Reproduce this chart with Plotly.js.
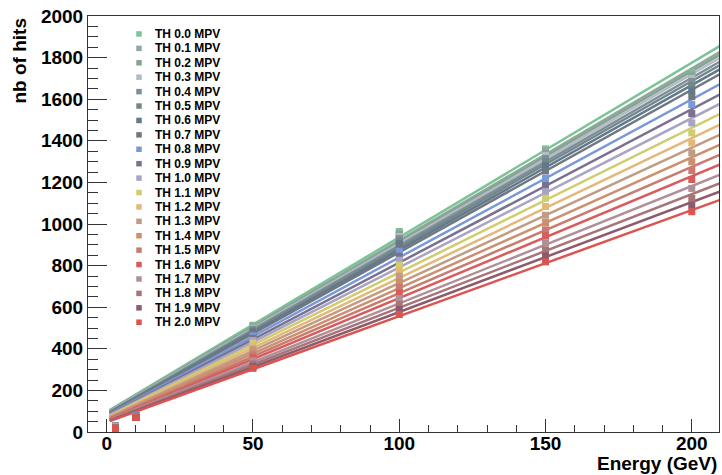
<!DOCTYPE html>
<html>
<head>
<meta charset="utf-8">
<script src="https://cdn.plot.ly/plotly-3.0.1.min.js"></script>
<style>html,body{margin:0;padding:0;background:#fff;}#chart{width:722px;height:475px;}</style>
</head>
<body>
<div id="chart"></div>
<script>
// ---- data ----
const thresholds = ['TH 0.0 MPV','TH 0.1 MPV','TH 0.2 MPV','TH 0.3 MPV','TH 0.4 MPV','TH 0.5 MPV','TH 0.6 MPV','TH 0.7 MPV','TH 0.8 MPV','TH 0.9 MPV','TH 1.0 MPV','TH 1.1 MPV','TH 1.2 MPV','TH 1.3 MPV','TH 1.4 MPV','TH 1.5 MPV','TH 1.6 MPV','TH 1.7 MPV','TH 1.8 MPV','TH 1.9 MPV','TH 2.0 MPV'];
const energies = [3, 10, 50, 100, 150, 200];
const hitsE3   = [30,29,29,28,28,27,27,26,25,25,24,23,23,22,21,21,20,19,19,18,17];
const hitsE10  = [80,79,79,78,78,77,77,76,76,75,75,74,74,73,73,72,72,71,71,70,70];
const hitsE50  = [513,508,504,500,494,488,481,472,462,450,440,427,413,399,385,371,357,342,327,315,306];
const hitsE100 = [964,955,948,940,930,918,905,888,869,845,826,802,776,749,722,696,669,642,613,589,565];
const hitsE150 = [1361,1350,1340,1330,1315,1300,1280,1255,1220,1187,1156,1124,1084,1042,1007,972,943,910,876,847,818];
const hitsE200 = [1728,1720,1710,1700,1685,1665,1640,1612,1574,1531,1486,1438,1390,1342,1299,1257,1214,1171,1123,1090,1059];
// linear fit parameters per threshold (hits = intercept + slope * E)
const fitIntercept = [96.6,94.7,92.8,90.9,88.9,87.0,84.1,82.2,79.4,76.6,73.8,71.0,68.3,65.5,62.7,59.9,57.1,54.4,51.5,48.7,46.9];
const fitSlope     = [8.395,8.265,8.212,8.149,8.072,8.000,7.918,7.817,7.600,7.378,7.176,6.959,6.723,6.506,6.289,6.072,5.865,5.639,5.460,5.282,5.099];
const fitRange = [1, 215];
const xTicks = [0, 50, 100, 150, 200];

// ---- styles ----
const colors = ['rgb(122,196,150)','rgb(143,168,160)','rgb(136,164,142)','rgb(176,188,200)','rgb(127,143,152)','rgb(116,136,138)','rgb(98,120,140)','rgb(110,120,128)','rgb(120,152,216)','rgb(122,112,144)','rgb(168,164,196)','rgb(208,204,112)','rgb(228,184,120)','rgb(192,156,132)','rgb(204,144,112)','rgb(200,124,112)','rgb(216,92,92)','rgb(176,144,152)','rgb(168,116,120)','rgb(140,92,108)','rgb(220,84,80)'];
const FONT = 'Liberation Sans, Arial, Helvetica, sans-serif';
const axisCol = '#333';

const hitsByEnergy = [hitsE3, hitsE10, hitsE50, hitsE100, hitsE150, hitsE200];
const traces = [];
thresholds.forEach((name, i) => {
  traces.push({
    type: 'scatter', mode: 'lines', name: name, showlegend: false, hoverinfo: 'skip',
    x: fitRange.slice(),
    y: fitRange.map(e => fitIntercept[i] + fitSlope[i] * e),
    line: {color: colors[i], width: 2.5}
  });
});
thresholds.forEach((name, i) => {
  traces.push({
    type: 'scatter', mode: 'markers', name: name, showlegend: false,
    x: energies.slice(),
    y: hitsByEnergy.map(arr => arr[i]),
    marker: {symbol: 'square', size: 7, color: colors[i], line: {width: 0}},
    cliponaxis: true
  });
});

// plot area in pixels
const W = 722, H = 475;
const M = {l: 88, r: 3, t: 16, b: 42.5};
const pw = W - M.l - M.r, ph = H - M.t - M.b;
const px2x = p => (p - M.l) / pw;
const py2y = p => (H - M.b - p) / ph;

const shapes = [];
const annotations = [];
const legTop = 34, legStep = 14.43, sw = 5.5;
thresholds.forEach((name, i) => {
  const cy = legTop + legStep * i;
  shapes.push({type: 'rect', xref: 'paper', yref: 'paper',
    x0: px2x(139 - sw/2), x1: px2x(139 + sw/2), y0: py2y(cy + sw/2), y1: py2y(cy - sw/2),
    fillcolor: colors[i], line: {width: 0}});
  annotations.push({xref: 'paper', yref: 'paper', x: px2x(153), y: py2y(cy),
    xanchor: 'left', yanchor: 'middle', showarrow: false, text: name,
    font: {family: FONT, size: 12, color: '#000', weight: 'bold'}});
});
annotations.push({xref: 'paper', yref: 'paper', x: px2x(719), y: py2y(464),
  xanchor: 'right', yanchor: 'middle', showarrow: false, text: 'Energy (GeV)',
  font: {family: FONT, size: 19, color: '#000', weight: 'bold'}});
annotations.push({xref: 'paper', yref: 'paper', x: px2x(19), y: py2y(17),
  xanchor: 'center', yanchor: 'top', showarrow: false, textangle: -90, text: 'nb of hits',
  font: {family: FONT, size: 19, color: '#000', weight: 'bold'}});

const layout = {
  width: W, height: H,
  margin: M,
  paper_bgcolor: '#fff', plot_bgcolor: '#fff',
  showlegend: false,
  xaxis: {
    range: [-6.4, 209.3], tickmode: 'array', tickvals: xTicks, ticktext: xTicks.map(String),
    ticks: 'inside', ticklen: 13, tickwidth: 1, tickcolor: axisCol,
    ticklabelstandoff: -6,
    showline: true, linecolor: axisCol, linewidth: 1, mirror: true,
    showgrid: false, zeroline: false,
    minor: {tick0: 0, dtick: 10, ticks: 'inside', ticklen: 7, tickwidth: 1, tickcolor: axisCol, showgrid: false},
    tickfont: {family: FONT, size: 19, color: '#000', weight: 'bold'}
  },
  yaxis: {
    range: [0, 2000], tick0: 0, dtick: 200,
    ticks: 'inside', ticklen: 19, tickwidth: 1, tickcolor: axisCol,
    showline: true, linecolor: axisCol, linewidth: 1, mirror: true,
    showgrid: false, zeroline: false,
    minor: {tick0: 0, dtick: 50, ticks: 'inside', ticklen: 10, tickwidth: 1, tickcolor: axisCol, showgrid: false},
    tickfont: {family: FONT, size: 19, color: '#000', weight: 'bold'}
  },
  shapes: shapes,
  annotations: annotations
};

Plotly.newPlot('chart', traces, layout, {displayModeBar: false, staticPlot: true});
</script>
</body>
</html>
